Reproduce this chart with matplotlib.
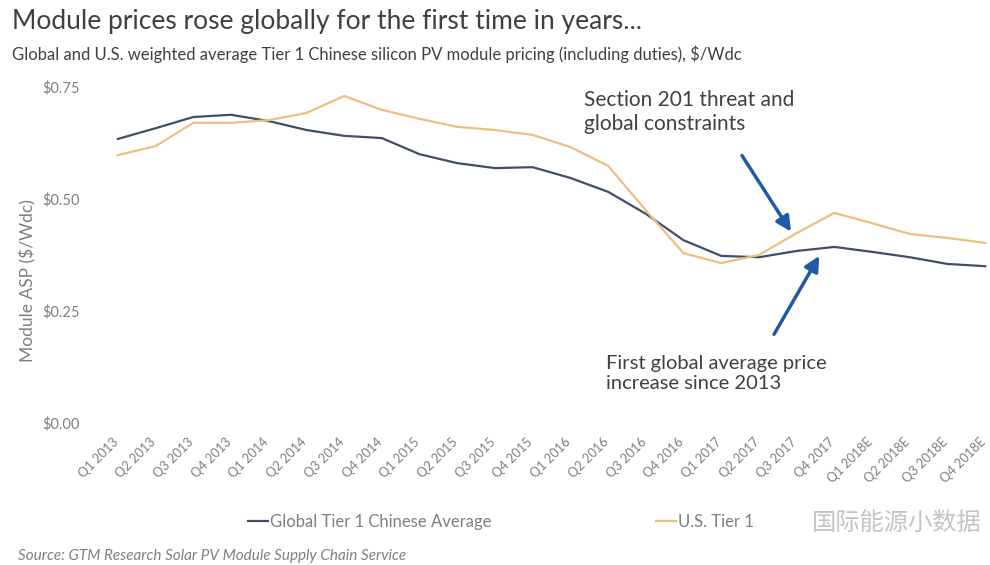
import matplotlib
matplotlib.use("Agg")
import matplotlib.pyplot as plt
from matplotlib.transforms import ScaledTranslation

plt.rcParams['font.family'] = ['Lato', 'Noto Sans CJK SC', 'DejaVu Sans']

quarters = ["Q1 2013", "Q2 2013", "Q3 2013", "Q4 2013",
            "Q1 2014", "Q2 2014", "Q3 2014", "Q4 2014",
            "Q1 2015", "Q2 2015", "Q3 2015", "Q4 2015",
            "Q1 2016", "Q2 2016", "Q3 2016", "Q4 2016",
            "Q1 2017", "Q2 2017", "Q3 2017", "Q4 2017",
            "Q1 2018E", "Q2 2018E", "Q3 2018E", "Q4 2018E"]

global_avg = [0.634, 0.658, 0.683, 0.688, 0.674, 0.654, 0.641, 0.636,
              0.600, 0.580, 0.569, 0.571, 0.547, 0.516, 0.467, 0.408,
              0.373, 0.370, 0.384, 0.393, 0.382, 0.370, 0.355, 0.350]

us_avg = [0.598, 0.618, 0.670, 0.670, 0.676, 0.692, 0.730, 0.699,
          0.679, 0.661, 0.654, 0.643, 0.616, 0.574, 0.475, 0.379,
          0.357, 0.375, 0.424, 0.469, 0.446, 0.422, 0.413, 0.402]

series_labels = ["Global Tier 1 Chinese Average", "U.S. Tier 1"]

y_ticks = [0.0, 0.25, 0.50, 0.75]
y_tick_labels = ["$0.00", "$0.25", "$0.50", "$0.75"]

NAVY = "#414e68"
GOLD = "#ebc07f"
GRAY = "#7f7f7f"
TEXT = "#404040"
ARROW = "#1f5aa6"

W, H = 990, 565
fig = plt.figure(figsize=(W / 100, H / 100), dpi=100)
fig.patch.set_facecolor("white")

def fx(px):
    return px / W

def fy(py):
    return 1 - py / H

ax_left, ax_right = 99, 989
ax = fig.add_axes([fx(ax_left), fy(423), fx(ax_right) - fx(ax_left), fy(87) - fy(423)])
x = list(range(len(quarters)))
ax.plot(x, global_avg, color=NAVY, lw=1.6, label=series_labels[0])
ax.plot(x, us_avg, color=GOLD, lw=1.6, label=series_labels[1])
ax.set_xlim(-0.5, 23.1)
ax.set_ylim(0, 0.75)
for s in ax.spines.values():
    s.set_visible(False)
ax.set_yticks(y_ticks)
ax.set_yticklabels(y_tick_labels, color=GRAY, fontsize=10.5)
ax.set_xticks(x)
ax.set_xticklabels(quarters, rotation=45, ha="right", va="top",
                   rotation_mode="anchor", color=GRAY, fontsize=9.2)
ax.tick_params(axis="x", length=0, pad=9)
ax.tick_params(axis="y", length=0, pad=14)
# nudge the slanted quarter labels so their ends sit under each tick
shift = ScaledTranslation(-6 / 100, 0, fig.dpi_scale_trans)
for lbl in ax.get_xticklabels():
    lbl.set_transform(lbl.get_transform() + shift)
ax.set_ylabel("Module ASP ($/Wdc)", color=GRAY, fontsize=12.5)
ax.yaxis.set_label_coords((36 - ax_left) / (ax_right - ax_left), 0.425)

# annotations
ax.text(12.35, 0.743, "Section 201 threat and\nglobal constraints", fontsize=15,
        color=TEXT, va="top", ha="left", linespacing=1.25)
ax.annotate("", xy=(17.85, 0.427), xytext=(16.55, 0.597),
            arrowprops=dict(arrowstyle="-|>,head_length=0.9,head_width=0.45",
                            color=ARROW, lw=2.5, shrinkA=0, shrinkB=0))
ax.text(12.95, 0.152, "First global average price\nincrease since 2013", fontsize=14.5,
        color=TEXT, va="top", ha="left", linespacing=1.25)
ax.annotate("", xy=(18.6, 0.373), xytext=(17.4, 0.198),
            arrowprops=dict(arrowstyle="-|>,head_length=0.9,head_width=0.45",
                            color=ARROW, lw=2.5, shrinkA=0, shrinkB=0))

# legend, one entry per series
lines = ax.get_lines()
for line, left in zip(lines, (248, 656)):
    fig.legend(handles=[line], loc="center left", bbox_to_anchor=(fx(left), fy(522)),
               frameon=False, fontsize=12, handlelength=1.2, handletextpad=0.15,
               borderpad=0, borderaxespad=0, labelcolor=GRAY)

# channel watermark
fig.text(fx(812), fy(522), "国际能源小数据", fontsize=17.5, color="#c4c4c4",
         va="center", ha="left", zorder=10)

fig.text(fx(12), fy(22), "Module prices rose globally for the first time in years...",
         fontsize=19, color=TEXT, va="center", ha="left")
fig.text(fx(12), fy(54),
         "Global and U.S. weighted average Tier 1 Chinese silicon PV module pricing (including duties), $/Wdc",
         fontsize=12, color=TEXT, va="center", ha="left")
fig.text(fx(18), fy(556), "Source: GTM Research Solar PV Module Supply Chain Service",
         fontsize=11, color=GRAY, style="italic", va="center", ha="left")

fig.savefig("out.png", dpi=100, facecolor="white")
